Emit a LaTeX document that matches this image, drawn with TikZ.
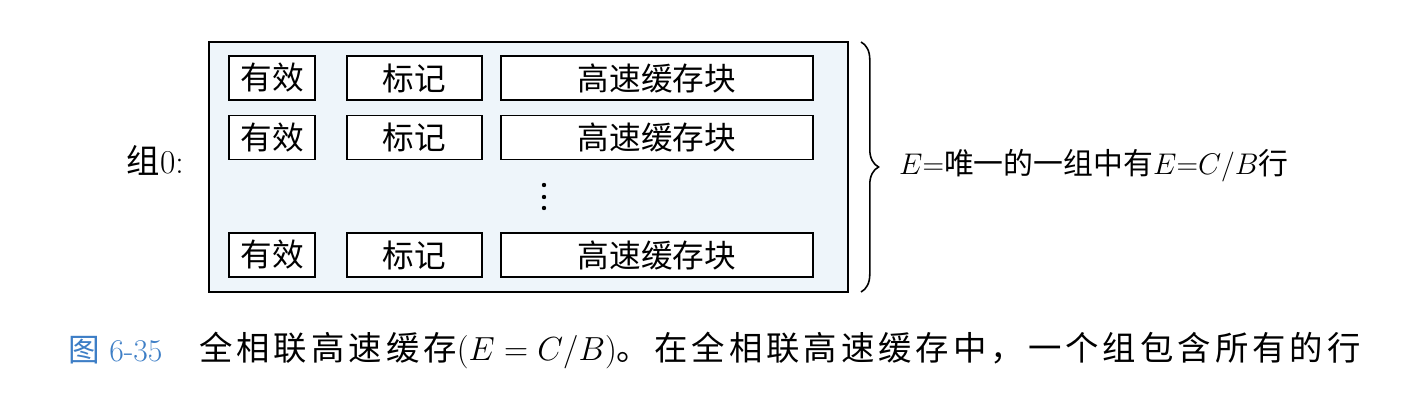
\documentclass[tikz,border=0pt]{standalone}
\usepackage{fix-cm}
\usepackage{fontspec}
\newfontfamily\cjk{Noto Sans CJK SC}
\newfontfamily\cjkwide[LetterSpace=12]{Noto Sans CJK SC}
\usetikzlibrary{decorations.pathreplacing}
\definecolor{setbg}{HTML}{EEF5FA}
\definecolor{figblue}{HTML}{3D7EC6}

\begin{document}
\begin{tikzpicture}[x=0.02cm,y=-0.02cm,
  cell/.style={draw,fill=white,line width=0.9pt,minimum height=0.88cm,inner sep=0pt,
    font=\cjk\fontsize{18}{20}\selectfont},
  big/.style={font=\fontsize{18}{20}\selectfont}]
  \useasboundingbox (0,0) rectangle (1428,408);
  % the one set, holding every line
  \node[draw,fill=setbg,line width=0.9pt,minimum width=12.78cm,minimum height=5cm] (set) at (528.5,167) {};
  \foreach \r/\y in {1/78,2/137.5,3/255} {
    \node[cell,minimum width=1.72cm] (valid\r) at (272,\y) {有效};
    \node[cell,minimum width=2.7cm] (tag\r) at (414.5,\y) {标记};
    \node[cell,minimum width=6.24cm] (block\r) at (657,\y) {高速缓存块};
  }
  \foreach \d in {185,197,208} \fill (544,\d) circle (2.2);
  \node[font=\fontsize{19}{21}\selectfont,anchor=east] (setlabel) at (190,160) {{\cjk 组}0:};
  % brace over all lines
  \coordinate (btop) at (861,42);
  \coordinate (bbot) at (861,292);
  \draw[line width=0.9pt,decorate,decoration={brace,amplitude=10pt}] (btop) -- (bbot);
  \node[font=\fontsize{17}{19}\selectfont,anchor=west] (lines) at (893,166) {$E$={\cjk 唯一的一组中有}$E$=$C/B${\cjk 行}};
  % caption
  \node[big,anchor=west,text=figblue] (fignum) at (62,350) {{\cjk 图} 6-35};
  \node[font=\fontsize{19}{21}\selectfont,anchor=west] (caption) at (193,350) {{\cjkwide 全相联高速缓存}$(E=C/B)${\cjkwide 。在全相联高速缓存中，一个组包含所有的行}};
\end{tikzpicture}
\end{document}
